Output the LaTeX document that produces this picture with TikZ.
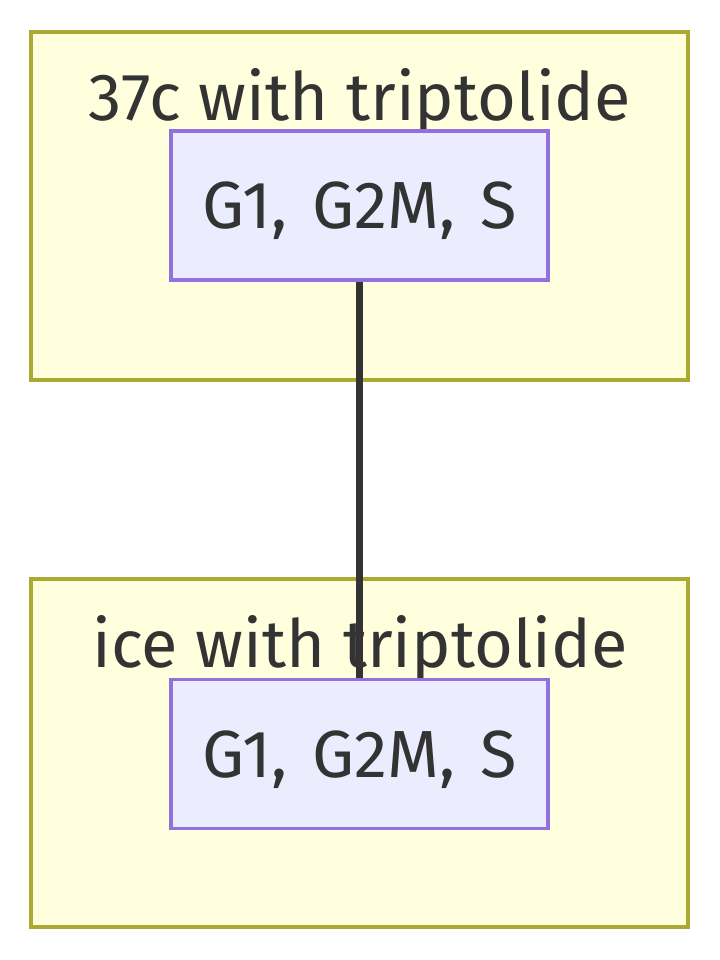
\documentclass[tikz,border=0pt]{standalone}
\usepackage{fontspec}
\setmainfont{Fira Sans}
\newfontfamily\statefont[WordSpace=1.45]{Fira Sans}
\usetikzlibrary{positioning}
\definecolor{clFill}{HTML}{FFFFDE}
\definecolor{clDraw}{HTML}{AAAA33}
\definecolor{ndFill}{HTML}{ECECFF}
\definecolor{ndDraw}{HTML}{9370DB}
\definecolor{txtDark}{HTML}{333333}
\tikzset{
  cluster/.style={
    draw=clDraw, fill=clFill, line width=2.7pt, inner sep=0pt,
    minimum width=492.75pt, minimum height=261pt
  },
  clustertitle/.style={font=\fontsize{50}{60}\selectfont, text=txtDark, inner sep=0pt, anchor=base},
  cellstate/.style={
    draw=ndDraw, fill=ndFill, line width=2.7pt, inner sep=0pt,
    minimum width=282.75pt, minimum height=111.75pt,
    text height=34.5pt, text depth=0pt,
    font=\statefont\fontsize{50}{60}\selectfont, text=txtDark
  },
  link/.style={draw=txtDark, line width=5.4pt}
}
\begin{document}
\begin{tikzpicture}[x=0.75pt, y=-0.75pt]
  \useasboundingbox (0,0) rectangle (720,960);
  % clusters
  \node[cluster] (warm) at (359.5,206) {};
  \node[cluster] (cold) at (359.5,753) {};
  \node[clustertitle] (warmtitle) at (360,120) {37c with triptolide};
  \node[clustertitle] (coldtitle) at (360,667) {ice with triptolide};
  % states
  \node[cellstate] (warmcells) at (359.5,205.5) {G1, G2M, S};
  \node[cellstate] (coldcells) at (359.5,754) {G1, G2M, S};
  \draw[link] (warmcells.south) -- (coldcells.north);
\end{tikzpicture}
\end{document}
